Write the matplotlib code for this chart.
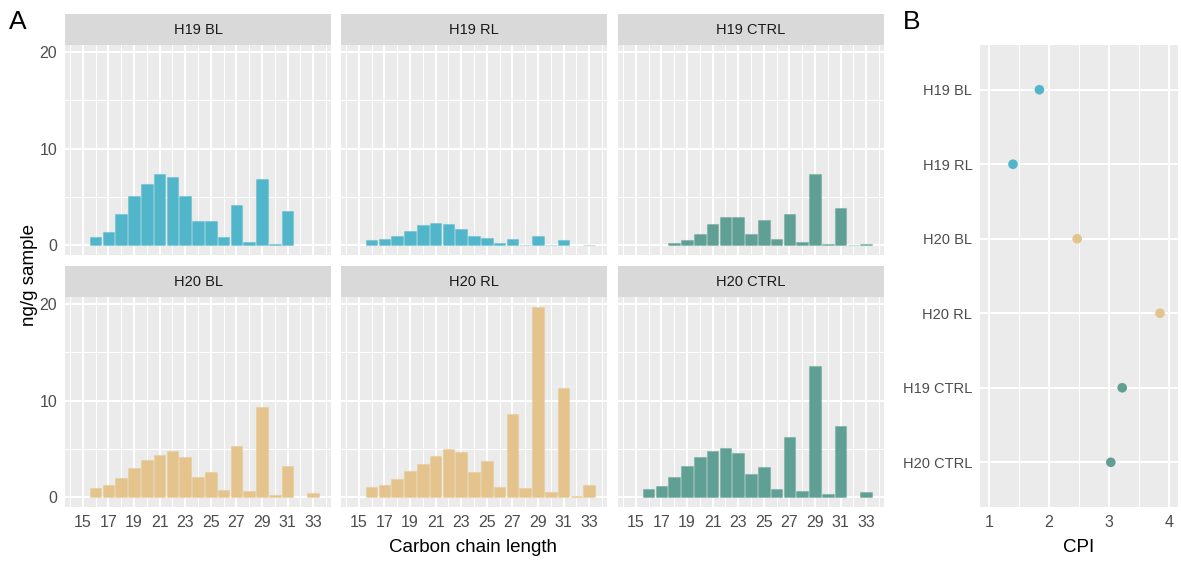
import numpy as np
import matplotlib
matplotlib.use("Agg")
import matplotlib.pyplot as plt
from matplotlib.ticker import FixedLocator

plt.rcParams['font.family'] = ['Liberation Sans', 'DejaVu Sans']

# Carbon chain lengths (n-alkane homologues)
carbon = list(range(15, 34))

# Concentrations, ng/g sample, per carbon number 15..33
h19_bl = [0, 0.90, 1.42, 3.26, 5.06, 6.31, 7.38, 7.04, 5.06, 2.56, 2.56, 0.83, 4.16, 0.31, 6.86, 0.10, 3.54, 0, 0]
h19_rl = [0, 0.52, 0.70, 1.01, 1.53, 2.13, 2.33, 2.20, 1.74, 0.94, 0.73, 0.24, 0.70, 0.05, 0.94, 0.02, 0.56, 0, 0.02]
h19_ctrl = [0, 0, 0, 0.21, 0.52, 1.22, 2.23, 2.96, 2.89, 1.22, 2.68, 0.63, 3.21, 0.35, 7.35, 0.14, 3.83, 0.02, 0.17]
h20_bl = [0, 0.94, 1.28, 2.01, 3.05, 3.85, 4.40, 4.78, 4.16, 2.11, 2.60, 0.76, 5.30, 0.62, 9.39, 0.21, 3.26, 0, 0.45]
h20_rl = [0, 1.04, 1.32, 1.87, 2.70, 3.50, 4.33, 5.03, 4.71, 2.67, 3.78, 1.07, 8.67, 0.97, 19.72, 0.55, 11.27, 0.10, 1.28]
h20_ctrl = [0, 0.83, 1.18, 2.15, 3.22, 4.19, 4.85, 5.10, 4.64, 2.46, 3.12, 0.83, 6.27, 0.66, 13.62, 0.38, 7.35, 0, 0.52]

# Facet order (row-wise) and the series drawn in each
facet_labels = ["H19 BL", "H19 RL", "H19 CTRL", "H20 BL", "H20 RL", "H20 CTRL"]
facet_values = [h19_bl, h19_rl, h19_ctrl, h20_bl, h20_rl, h20_ctrl]

# Carbon preference index per sample
cpi_labels = ["H19 BL", "H19 RL", "H20 BL", "H20 RL", "H19 CTRL", "H20 CTRL"]
cpi_values = [1.84, 1.40, 2.47, 3.85, 3.22, 3.03]

x_ticks = list(range(15, 34, 2))
y_ticks = [0, 10, 20]
cpi_ticks = [1, 2, 3, 4]

BLUE = "#51B6CA"
TAN = "#E4C48C"
TEAL = "#5F9F94"
colour_of = {"H19 BL": BLUE, "H19 RL": BLUE, "H20 BL": TAN, "H20 RL": TAN,
             "H19 CTRL": TEAL, "H20 CTRL": TEAL}

PANEL_BG = "#EBEBEB"
STRIP_BG = "#D9D9D9"
TICK_COL = "#4D4D4D"

W, H = 1181, 561
fig = plt.figure(figsize=(W / 100, H / 100), dpi=100)


def px_axes(x0, y0, x1, y1):
    return fig.add_axes([x0 / W, 1 - y1 / H, (x1 - x0) / W, (y1 - y0) / H])


def style_panel(ax):
    ax.set_facecolor(PANEL_BG)
    for s in ax.spines.values():
        s.set_visible(False)
    ax.grid(which="major", color="white", lw=1.5)
    ax.grid(which="minor", color="white", lw=0.75)
    ax.set_axisbelow(True)
    ax.tick_params(which="major", length=0, labelsize=11.5,
                   labelcolor=TICK_COL, pad=5.5)
    ax.tick_params(which="minor", length=0)


# shared scales with ggplot-like 5% expansion
all_vals = np.concatenate([np.asarray(v, float) for v in facet_values])
ymax = all_vals.max()
ylim = (-0.05 * ymax, ymax * 1.05)
xr0, xr1 = carbon[0] - 0.45, carbon[-1] + 0.45
xpad = 0.05 * (xr1 - xr0)
xlim = (xr0 - xpad, xr1 + xpad)

cols = [(65, 331), (341, 607), (618, 884)]
rows = [(14, 45, 255), (266, 297, 507)]

for i, (lab, vals) in enumerate(zip(facet_labels, facet_values)):
    r, c = divmod(i, 3)
    x0, x1 = cols[c]
    s0, p0, p1 = rows[r]
    ax = px_axes(x0, p0, x1, p1)
    style_panel(ax)
    v = np.asarray(vals, float)
    cx = np.asarray(carbon)
    keep = v > 0
    col = colour_of[lab]
    ax.bar(cx[keep], v[keep], width=0.9, color=col,
           edgecolor=matplotlib.colors.to_rgba(col, 0.35), linewidth=0.8)
    ax.set_xlim(*xlim)
    ax.set_ylim(*ylim)
    ax.xaxis.set_major_locator(FixedLocator(x_ticks))
    ax.xaxis.set_minor_locator(FixedLocator(list(range(14, 35, 2))))
    ax.yaxis.set_major_locator(FixedLocator(y_ticks))
    ax.yaxis.set_minor_locator(FixedLocator([5, 15]))
    if c != 0:
        ax.tick_params(axis="y", labelleft=False)
    if r != 1:
        ax.tick_params(axis="x", labelbottom=False)
    # facet strip
    sax = px_axes(x0, s0, x1, p0)
    sax.set_facecolor(STRIP_BG)
    sax.set_xticks([])
    sax.set_yticks([])
    for s in sax.spines.values():
        s.set_visible(False)
    sax.text(0.5, 0.5, lab, ha="center", va="center", fontsize=10.5,
             color="#1A1A1A", transform=sax.transAxes)

fig.text(30 / W, 1 - 275 / H, "ng/g sample", rotation=90, ha="center",
         va="center", fontsize=13.5, color="black")
fig.text(473 / W, 1 - 548 / H, "Carbon chain length", ha="center",
         va="center", fontsize=13.5, color="black")
fig.text(18 / W, 1 - 22 / H, "A", ha="center", va="center", fontsize=19)

# Panel B: CPI dot plot
bx = px_axes(980, 45, 1178, 507)
style_panel(bx)
ypos = np.arange(len(cpi_labels))[::-1] + 1
bx.scatter(cpi_values, ypos, s=48, c=[colour_of[l] for l in cpi_labels],
           zorder=3, linewidths=0)
bx.set_xlim(cpi_ticks[0] - 0.05 * (cpi_ticks[-1] - cpi_ticks[0]),
            cpi_ticks[-1] + 0.05 * (cpi_ticks[-1] - cpi_ticks[0]))
bx.set_ylim(0.4, len(cpi_labels) + 0.6)
bx.xaxis.set_major_locator(FixedLocator(cpi_ticks))
bx.xaxis.set_minor_locator(FixedLocator([1.5, 2.5, 3.5]))
bx.set_yticks(ypos)
bx.set_yticklabels(cpi_labels)
bx.tick_params(axis="y", labelsize=10.5)
fig.text(1079 / W, 1 - 548 / H, "CPI", ha="center", va="center",
         fontsize=13.5, color="black")
fig.text(912 / W, 1 - 22 / H, "B", ha="center", va="center", fontsize=19)

fig.savefig("out.png", dpi=100)
